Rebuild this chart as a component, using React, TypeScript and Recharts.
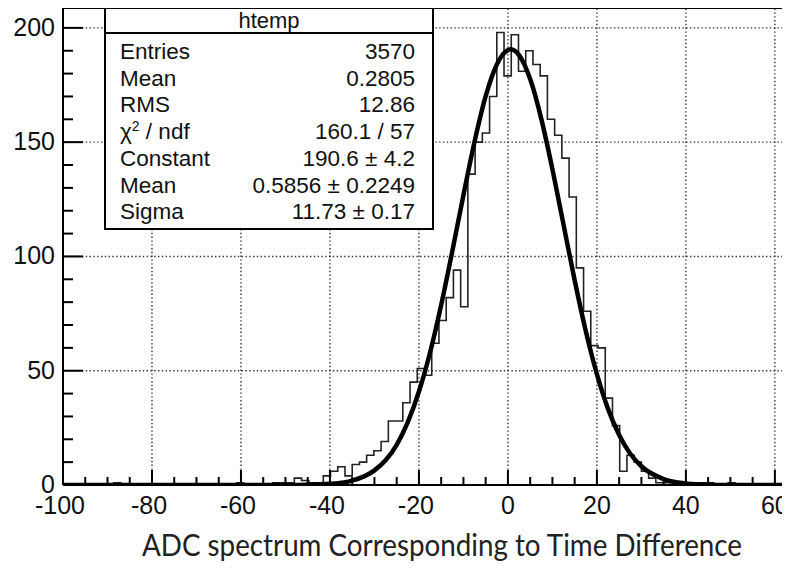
import { ComposedChart, Line, XAxis, YAxis, ReferenceLine } from "recharts";

// histogram binning (100 bins starting at -100)
const BIN_LO = -100;
const BIN_W = 1.625;

// counts per bin
const COUNTS = [
  0, 0, 0, 0, 0, 0, 0, 1, 0, 0,
  0, 0, 0, 0, 0, 0, 0, 0, 0, 0,
  0, 0, 0, 0, 1, 0, 0, 0, 0, 1,
  1, 1, 3, 2, 1, 1, 4, 6, 8, 4,
  9, 10, 13, 15, 19, 28, 28, 36, 45, 51,
  48, 62, 72, 82, 94, 78, 136, 150, 154, 170,
  198, 179, 197, 181, 190, 184, 179, 160, 153, 143,
  126, 95, 76, 61, 60, 38, 26, 6, 13, 10,
  6, 3, 1, 1, 1, 0, 1, 0, 1, 1,
  0, 0, 1, 0, 0, 0, 0, 0, 0, 0,
];

// gaus fit curve
const FIT_X = [-100, -60, -50, -45, -40, -35, -30, -27.5, -25, -22.5, -20, -17.5, -15, -12.5, -10, -7.5, -5, -2.5, 0.6, 2.5, 5, 7.5, 10, 12.5, 15, 17.5, 20, 22.5, 25, 27.5, 30, 35, 40, 45, 50, 63.4];
const FIT_Y = [0, 0, 0.02, 0.1, 0.5, 1.9, 6.4, 10.8, 17.6, 27.5, 40.9, 58, 78.8, 102.3, 126.8, 150.2, 170.1, 184, 190.6, 188.1, 177.6, 160.2, 138.2, 113.9, 89.6, 67.4, 48.5, 33.3, 21.9, 13.7, 8.2, 2.6, 0.7, 0.15, 0.03, 0];

const X_TICKS = [-100, -95, -90, -85, -80, -75, -70, -65, -60, -55, -50, -45, -40, -35, -30, -25, -20, -15, -10, -5, 0, 5, 10, 15, 20, 25, 30, 35, 40, 45, 50, 55, 60];
const Y_TICKS = [0, 10, 20, 30, 40, 50, 60, 70, 80, 90, 100, 110, 120, 130, 140, 150, 160, 170, 180, 190, 200];
const X_GRID = [-80, -60, -40, -20, 0, 20, 40, 60];
const Y_GRID = [50, 100, 150, 200];

const STAT_TITLE = "htemp";
const STAT_LABELS = ["Entries", "Mean", "RMS", "chi2", "Constant", "Mean", "Sigma"];
const STAT_VALUES = ["3570", "0.2805", "12.86", "160.1 / 57", "190.6 \u00b1 4.2", "0.5856 \u00b1 0.2249", "11.73 \u00b1 0.17"];
const CAPTION = "ADC spectrum Corresponding to Time Difference";

const histData = Array.from({ length: COUNTS.length + 1 }, (_, i) => ({
  x: BIN_LO + i * BIN_W,
  y: COUNTS[Math.min(i, COUNTS.length - 1)],
}));
const fitData = FIT_X.map((x, i) => ({ x, y: FIT_Y[i] }));

const AXIS_FONT = "'Liberation Sans', Arial, Helvetica, sans-serif";

const XTick = (props: any) => {
  const { x, y, payload } = props;
  const v = payload.value;
  const major = v % 20 === 0;
  return (
    <g>
      <line x1={x} x2={x} y1={y} y2={y - (major ? 15 : 8)} stroke="#000" strokeWidth={2} />
      {major && (
        <text x={x - (v < 0 ? 3 : 0)} y={y + 29} textAnchor="middle" fontSize={25} fontFamily={AXIS_FONT} fill="#111">
          {v}
        </text>
      )}
    </g>
  );
};

const YTick = (props: any) => {
  const { x, y, payload } = props;
  const v = payload.value;
  const major = v % 50 === 0;
  return (
    <g>
      <line x1={x} x2={x + (major ? 20 : 10)} y1={y} y2={y} stroke="#000" strokeWidth={2} />
      {major && (
        <text x={x - 8} y={y + 8} textAnchor="end" fontSize={25} fontFamily={AXIS_FONT} fill="#111">
          {v}
        </text>
      )}
    </g>
  );
};

const StatsBox = () => {
  const left = 105, top = 8, w = 328, h = 221;
  return (
    <g fontFamily={AXIS_FONT} fill="#111">
      <rect x={left} y={top} width={w} height={h} fill="#fff" stroke="#000" strokeWidth={2} />
      <line x1={left} x2={left + w} y1={33} y2={33} stroke="#000" strokeWidth={2} />
      <text x={left + w / 2} y={28} textAnchor="middle" fontSize={22}>{STAT_TITLE}</text>
      {STAT_LABELS.map((lab, i) => {
        const by = 59 + i * 26.7;
        return (
          <g key={i}>
            <text x={120} y={by} fontSize={22.5}>
              {lab === "chi2" ? (
                <>
                  {"\u03c7"}
                  <tspan dy={-8} fontSize={14}>2</tspan>
                  <tspan dy={8}>{" / ndf"}</tspan>
                </>
              ) : (
                lab
              )}
            </text>
            <text x={415} y={by} fontSize={22.5} textAnchor="end">{STAT_VALUES[i]}</text>
          </g>
        );
      })}
    </g>
  );
};

export default function App() {
  return (
    <div style={{ position: "relative", width: 790, height: 569, margin: -8, overflow: "hidden", background: "#fff" }}>
      <ComposedChart width={790} height={569} margin={{ top: 8, right: 0, left: 0, bottom: 0 }}>
        <XAxis
          type="number"
          dataKey="x"
          domain={[-100, 63.4]}
          allowDataOverflow
          ticks={X_TICKS}
          interval={0}
          tickSize={0}
          tickMargin={0}
          height={84}
          axisLine={{ stroke: "#000", strokeWidth: 2 }}
          tickLine={false}
          tick={<XTick />}
        />
        <YAxis
          type="number"
          domain={[0, 208.7]}
          allowDataOverflow
          ticks={Y_TICKS}
          interval={0}
          tickSize={0}
          tickMargin={0}
          width={63}
          axisLine={{ stroke: "#000", strokeWidth: 2 }}
          tickLine={false}
          tick={<YTick />}
        />
        {X_GRID.map((v) => (
          <ReferenceLine key={"gx" + v} x={v} stroke="#333" strokeWidth={1.4} strokeDasharray="1.4 2.4" />
        ))}
        {Y_GRID.map((v) => (
          <ReferenceLine key={"gy" + v} y={v} stroke="#333" strokeWidth={1.4} strokeDasharray="1.4 2.4" />
        ))}
        <Line
          data={histData}
          dataKey="y"
          type="stepAfter"
          stroke="#222"
          strokeWidth={1.6}
          dot={false}
          activeDot={false}
          isAnimationActive={false}
        />
        <Line
          data={fitData}
          dataKey="y"
          type="monotone"
          stroke="#000"
          strokeWidth={4.5}
          dot={false}
          activeDot={false}
          isAnimationActive={false}
        />
      </ComposedChart>
      <svg width={790} height={569} style={{ position: "absolute", left: 0, top: 0, pointerEvents: "none" }}>
        <line x1={62} x2={790} y1={8} y2={8} stroke="#000" strokeWidth={2} />
        <StatsBox />
        <text
          x={142}
          y={556}
          fontSize={30}
          fontFamily="Lato, 'Open Sans', sans-serif"
          fill="#222"
          textLength={600}
          lengthAdjust="spacingAndGlyphs"
        >
          {CAPTION}
        </text>
      </svg>
    </div>
  );
}
